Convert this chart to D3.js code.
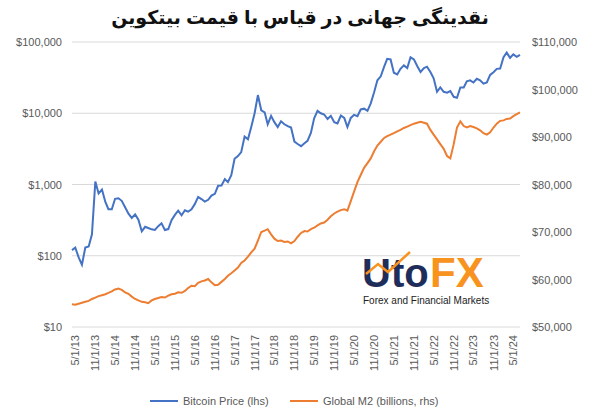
<!DOCTYPE html>
<html><head><meta charset="utf-8">
<script src="https://cdn.jsdelivr.net/npm/d3@7"></script>
<style>body{margin:0;background:#fff}</style>
</head><body><svg id="c" width="595" height="415"></svg>
<script>
// monthly values from Apr 2013 to Jul 2024
const startMonth = "2013-04-01";
const btc = [
  120,130,95,75,130,135,200,1100,750,
  850,570,450,450,630,640,590,480,390,340,380,320,
  220,255,245,235,230,260,285,230,237,315,375,430,
  370,435,415,450,530,670,625,575,610,700,740,960,
  970,1190,1080,1350,2300,2500,2850,4700,4300,6400,10000,18000,
  11000,10300,7000,9200,7500,6400,7700,7000,6600,6300,4000,3700,
  3450,3800,4100,5300,8500,10800,10000,9600,8300,9200,7500,7200,
  9300,8600,6400,8600,9500,9100,11300,11600,10800,13800,19700,29000,
  33000,45000,58000,57000,37000,35000,42000,47000,43000,61000,57000,46000,
  38000,43000,45000,38000,31000,20000,23000,20000,19400,20500,17000,16500,
  23000,23000,28000,29000,27000,30500,29000,26000,27000,34500,37700,42000,
  42500,61000,71000,60000,67000,62000,66000
];
const m2 = [
  54800,54700,54900,55100,55300,55500,55900,56200,56500,
  56700,56900,57200,57500,57900,58100,57800,57300,57000,56400,55900,55600,
  55300,55200,55000,55600,55900,56100,56300,56200,56600,56900,57000,57300,
  57200,57600,58200,58700,58600,59300,59600,59800,60100,59400,58800,58900,
  59500,60100,60800,61300,61900,62500,63500,64000,64800,65700,66500,68200,
  70000,70300,70600,69500,68600,68100,68200,67900,68000,67600,68100,69000,
  69800,70200,70100,70600,70900,71400,71800,72000,72600,73300,73900,74300,
  74600,74800,74500,76500,78500,80500,82000,83500,84500,85500,87000,88200,
  89000,89800,90200,90500,90800,91200,91500,91900,92200,92500,92800,93000,
  93200,93000,92800,91500,90500,89500,88500,87500,86000,85500,88500,92000,
  93300,92300,92000,92300,92100,91800,91400,90800,90500,91000,92000,92800,
  93400,93500,93800,93900,94400,94800,95200
];
const leftTicks = [10, 100, 1000, 10000, 100000];
const rightTicks = [50000, 60000, 70000, 80000, 90000, 100000, 110000];
const title = "نقدینگی جهانی در قیاس با قیمت بیتکوین";

const svg = d3.select("#c");
const pL = 72, pR = 520, pT = 42, pB = 327;
const t0 = new Date(startMonth + "T00:00");
const dates = btc.map((_, i) => d3.timeMonth.offset(t0, i));

const x = d3.scaleTime().domain([t0, dates[dates.length - 1]]).range([pL, pR]);
const yL = d3.scaleLog().domain([10, 100000]).range([pB, pT]);
const yR = d3.scaleLinear().domain([50000, 110000]).range([pB, pT]);

svg.append("text").attr("x", 300).attr("y", 24).attr("text-anchor", "middle")
  .attr("font-family", "Noto Sans, DejaVu Sans").attr("font-size", 19).attr("font-weight", "bold")
  .attr("fill", "#111").text(title);

// gridlines
svg.append("g").selectAll("line").data(leftTicks).join("line")
  .attr("x1", pL).attr("x2", pR).attr("y1", d => yL(d)).attr("y2", d => yL(d))
  .attr("stroke", "#d9d9d9");

const fmt = d3.format(",");
const lab = { "font-family": "Liberation Sans, Arial", "font-size": 11, fill: "#595959" };
const gl = svg.append("g").selectAll("text").data(leftTicks).join("text")
  .attr("x", pL - 10).attr("y", d => yL(d) + 4).attr("text-anchor", "end").text(d => "$" + fmt(d));
const gr = svg.append("g").selectAll("text").data(rightTicks).join("text")
  .attr("x", pR + 12).attr("y", d => yR(d) + 4).attr("text-anchor", "start").text(d => "$" + fmt(d));
[gl, gr].forEach(g => Object.entries(lab).forEach(([k, v]) => g.attr(k, v)));

// x tick labels every 6 months from 5/1/13
const xTicks = d3.timeMonth.range(new Date("2013-05-01T00:00"), new Date("2024-06-01T00:00"), 6);
const fx = d3.timeFormat("%-m/%-d/%y");
const gx = svg.append("g").selectAll("text").data(xTicks).join("text")
  .attr("transform", d => `translate(${x(d) + 4},${pB + 8}) rotate(-90)`)
  .attr("text-anchor", "end").text(d => fx(d));
Object.entries(lab).forEach(([k, v]) => gx.attr(k, v));

// logo
const logo = svg.append("g").attr("transform", "translate(362,250)");
logo.append("text").attr("x", 0).attr("y", 37).attr("font-family", "Liberation Sans, Arial")
  .attr("font-weight", "bold").attr("font-size", 40).attr("fill", "#1f2d5a").text("Uto");
logo.append("text").attr("x", 68).attr("y", 37).attr("font-family", "Liberation Sans, Arial")
  .attr("font-weight", "bold").attr("font-size", 42).attr("fill", "#f7931e").text("FX");
logo.append("path").attr("d", "M4,24 L16,14 L26,22 L48,2").attr("fill", "none")
  .attr("stroke", "#f7931e").attr("stroke-width", 2.5);
logo.append("text").attr("x", 1).attr("y", 54).attr("font-family", "Liberation Sans, Arial")
  .attr("font-size", 10).attr("fill", "#222").text("Forex and Financial Markets");

// lines
svg.append("path").datum(m2).attr("fill", "none").attr("stroke", "#ed7d31").attr("stroke-width", 2)
  .attr("d", d3.line().x((d, i) => x(dates[i])).y(d => yR(d)));
svg.append("path").datum(btc).attr("fill", "none").attr("stroke", "#4472c4").attr("stroke-width", 2)
  .attr("d", d3.line().x((d, i) => x(dates[i])).y(d => yL(d)));

// legend
const leg = [["Bitcoin Price (lhs)", "#4472c4", 150], ["Global M2 (billions, rhs)", "#ed7d31", 290]];
leg.forEach(([t, c, lx]) => {
  svg.append("line").attr("x1", lx).attr("x2", lx + 28).attr("y1", 401).attr("y2", 401)
    .attr("stroke", c).attr("stroke-width", 2);
  const tt = svg.append("text").attr("x", lx + 33).attr("y", 405).text(t);
  Object.entries(lab).forEach(([k, v]) => tt.attr(k, v));
});
</script></body></html>
